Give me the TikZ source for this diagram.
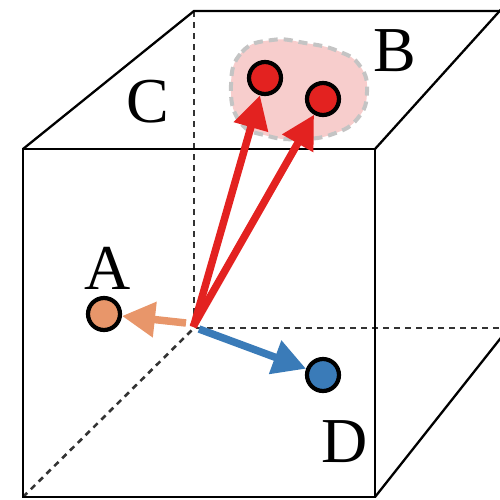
\documentclass[tikz,border=0pt]{standalone}
\usepackage{fontspec}
\setmainfont{Liberation Serif}
\usetikzlibrary{arrows.meta}
\definecolor{ptred}{HTML}{E32220}
\definecolor{blobpink}{HTML}{F7CDCC}
\definecolor{blobgray}{HTML}{C4C4C4}
\definecolor{ptorange}{HTML}{E8966A}
\definecolor{ptblue}{HTML}{3A7BB8}
\definecolor{edgegray}{HTML}{333333}
\tikzset{
  edge/.style={draw=black,line width=2.3pt},
  hidden/.style={draw=edgegray,line width=2.6pt,dash pattern=on 6pt off 5pt},
  point/.style={circle,draw=black,line width=4.2pt,minimum size=32pt,inner sep=0pt},
  letter/.style={font=\fontsize{64}{68}\selectfont,inner sep=0pt},
  vec/.style={line width=7.5pt,-{Triangle[length=33pt,width=34pt]}}
}
\begin{document}
\begin{tikzpicture}[x=1pt,y=-1pt]
  \useasboundingbox (0,0) rectangle (500,499);
  \begin{scope}
    \clip (0,0) rectangle (500,499);
    % back face
    \coordinate (btl) at (194,11);
    \coordinate (btr) at (520,11);
    \coordinate (bbl) at (194,328);
    \coordinate (bbr) at (520,328);
    % front face
    \coordinate (ftl) at (23,149);
    \coordinate (ftr) at (375,149);
    \coordinate (fbl) at (23,497);
    \coordinate (fbr) at (375,497);
    \fill[blobpink] plot[smooth cycle,tension=0.8] coordinates {
      (231,85) (242,52) (272,40) (305,43) (338,51) (360,66)
      (367,92) (358,118) (333,134) (300,139) (268,136) (240,122)};
    \draw[blobgray,line width=4pt,dash pattern=on 9pt off 6pt]
      plot[smooth cycle,tension=0.8] coordinates {
      (231,85) (242,52) (272,40) (305,43) (338,51) (360,66)
      (367,92) (358,118) (333,134) (300,139) (268,136) (240,122)};
    \draw[hidden] (btl) -- (bbl) -- (bbr);
    \draw[hidden] (fbl) -- (bbl);
    \draw[edge] (ftl) -- (btl) -- (btr);
    \draw[edge] (ftr) -- (515,-6);
    \draw[edge] (fbr) -- (515,320);
    \draw[edge] (ftl) rectangle (fbr);
  \end{scope}
  % points
  \node[point,fill=ptred] (b1) at (265,78) {};
  \node[point,fill=ptred] (b2) at (323,99) {};
  \node[point,fill=ptorange] (a) at (104,314) {};
  \node[point,fill=ptblue] (d) at (323,375) {};
  \node[letter] at (108,268) {A};
  \node[letter] at (395,51) {B};
  \node[letter] at (148,102) {C};
  \node[letter] at (345,442) {D};
  % vectors
  \coordinate (o) at (194,325);
  \draw[vec,ptred,shorten <=-2pt] (o) -- (b1);
  \draw[vec,ptred,shorten <=-2pt] (o) -- (b2);
  \draw[vec,ptorange] (186,323) -- (a);
  \draw[vec,ptblue] (199,329) -- (d);
\end{tikzpicture}
\end{document}
